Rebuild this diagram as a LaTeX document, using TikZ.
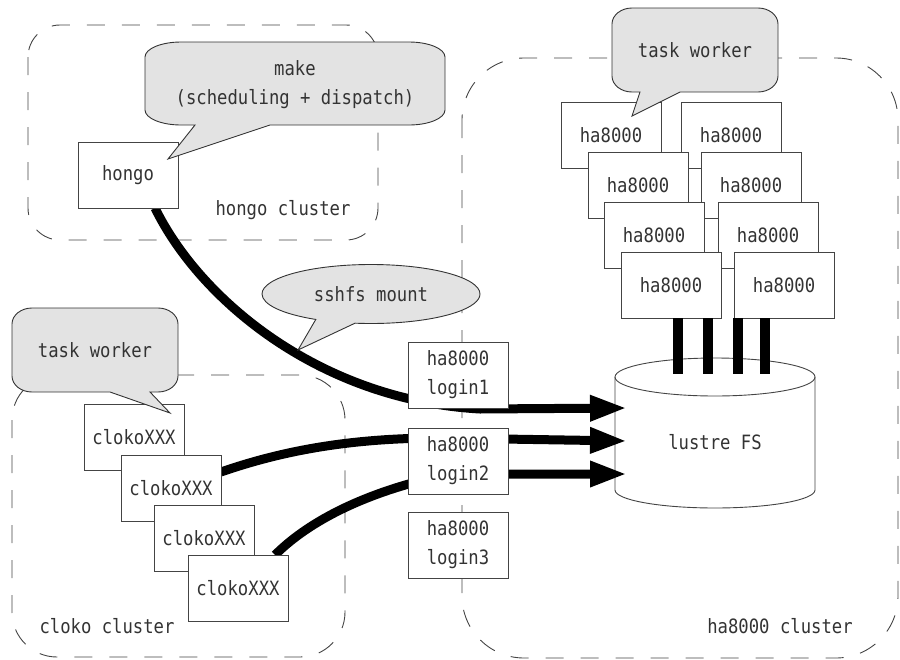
\documentclass[tikz,border=0pt]{standalone}
\usepackage{fontspec}
\setmainfont{DejaVu Sans Mono}[FakeStretch=0.875]
\usetikzlibrary{arrows.meta,shapes.callouts,calc}

\definecolor{inkgrey}{HTML}{333333}
\definecolor{edgegrey}{HTML}{444444}
\definecolor{bubblefill}{HTML}{E3E3E3}

% speech bubble: x1 y1 x2 y2, pointer base left x, base right x, tip x, tip y
\newcommand\talkbox[8]{%
  \filldraw[bubble]
    ({#1+\bubrx},#2) -- ({#3-\bubrx},#2)
    .. controls ({#3-0.45*\bubrx},#2) and (#3,{#2+0.45*\bubry}) .. (#3,{#2+\bubry})
    -- (#3,{#4-\bubry})
    .. controls (#3,{#4-0.45*\bubry}) and ({#3-0.45*\bubrx},#4) .. ({#3-\bubrx},#4)
    -- (#6,#4) -- (#7,#8) -- (#5,#4)
    -- ({#1+\bubrx},#4)
    .. controls ({#1+0.45*\bubrx},#4) and (#1,{#4-0.45*\bubry}) .. (#1,{#4-\bubry})
    -- (#1,{#2+\bubry})
    .. controls (#1,{#2+0.45*\bubry}) and ({#1+0.45*\bubrx},#2) .. ({#1+\bubrx},#2)
    -- cycle;}

\begin{document}
\begin{tikzpicture}[x=1pt,y=-1pt,
  every node/.style={font=\fontsize{19.7}{29}\selectfont, text=inkgrey},
  cluster/.style={draw=edgegrey, line width=0.9pt, dash pattern=on 18pt off 17pt},
  machine/.style={draw=edgegrey, fill=white, line width=0.9pt, inner sep=0pt,
                  minimum width=100pt, minimum height=66pt, align=center},
  bubble/.style={draw=inkgrey, fill=bubblefill, line width=0.9pt},
  link/.style={line width=9pt, draw=black, -{Triangle[length=37pt,width=24pt]}},
  bar/.style={line width=10pt, draw=black}]

\useasboundingbox (0,0) rectangle (900,659);

% cluster outlines
\draw[cluster, rounded corners=32pt] (28,25) rectangle (378,240);
\draw[cluster, rounded corners=45pt] (12,375) rectangle (345,657);
\draw[cluster, rounded corners=62pt] (462,58) rectangle (898,658);

\node (hongolabel) at (283,210) {hongo cluster};
\node (clokolabel) at (107,626) {cloko cluster};
\node (halabel) at (780,626) {ha8000 cluster};

% storage cylinder
\filldraw[draw=edgegrey, fill=white, line width=0.9pt]
  (615,377) -- (615,490) arc[start angle=180, end angle=360, x radius=100, y radius=-18]
  -- (815,377) arc[start angle=0, end angle=180, x radius=100, y radius=-19] -- cycle;
\draw[draw=edgegrey, line width=0.9pt]
  (615,377) arc[start angle=180, end angle=360, x radius=100, y radius=-19];
\node (lustre) at (715,442) {lustre FS};
\coordinate (fsin1) at (627,408);
\coordinate (fsin2) at (627,441);
\coordinate (fsin3) at (627,474);

% hosts whose edges the links start from
\coordinate (hongofoot) at (155,208);
\coordinate (clokoside) at (221,472);
\coordinate (clokotop) at (275,555);

% mount paths through the login nodes
\draw[link] (hongofoot) .. controls (200,300) and (320,400) .. (480,409) -- (fsin1);
\draw[link] (clokoside) .. controls (290,448) and (360,438) .. (440,438) -- (fsin2);
\draw[link] (clokotop) .. controls (315,515) and (380,488) .. (450,474) -- (fsin3);

% compute nodes of the ha8000 cluster
\node[machine] (h1l) at (611,135) {ha8000};
\node[machine] (h1r) at (731,135) {ha8000};
\node[machine] (h2l) at (638,185) {ha8000};
\node[machine] (h2r) at (751,185) {ha8000};
\node[machine] (h3l) at (654,235) {ha8000};
\node[machine] (h3r) at (768,235) {ha8000};
\node[machine] (h4l) at (671,285) {ha8000};
\node[machine] (h4r) at (784,285) {ha8000};

% links from the compute nodes to the file system
\draw[bar] ([xshift=7pt]h4l.south) -- ++(0,56);
\draw[bar] ([xshift=37pt]h4l.south) -- ++(0,56);
\draw[bar] ([xshift=-46pt]h4r.south) -- ++(0,56);
\draw[bar] ([xshift=-19pt]h4r.south) -- ++(0,56);

% cloko workers
\node[machine] (c1) at (134,437) {clokoXXX};
\node[machine] (c2) at (171,488) {clokoXXX};
\node[machine] (c3) at (204,538) {clokoXXX};
\node[machine] (c4) at (238,588) {clokoXXX};

% hongo head node
\node[machine] (hongo) at (128,175) {hongo};

% login nodes
\node[machine] (login1) at (458,375) {ha8000\\login1};
\node[machine] (login2) at (458,461) {ha8000\\login2};
\node[machine] (login3) at (458,545) {ha8000\\login3};

% speech bubbles
\def\bubrx{36}\def\bubry{15}
\talkbox{145}{42}{445}{125}{195}{270}{168}{159}
\node[align=center] (makenote) at (295,85) {make\\(scheduling + dispatch)};

\def\bubrx{20}\def\bubry{16}
\talkbox{612}{8}{778}{92}{640}{680}{632}{116}
\node (workernoteA) at (695,50) {task worker};

\talkbox{12}{308}{178}{392}{110}{150}{170}{413}
\node (workernoteB) at (95,350) {task worker};

\node[ellipse callout, draw=inkgrey, fill=bubblefill, line width=0.9pt, inner sep=0pt,
      minimum width=218pt, minimum height=59pt, callout pointer arc=22,
      callout absolute pointer={(298,350)}] (sshfsnote) at (371,294) {sshfs mount};

\end{tikzpicture}
\end{document}
